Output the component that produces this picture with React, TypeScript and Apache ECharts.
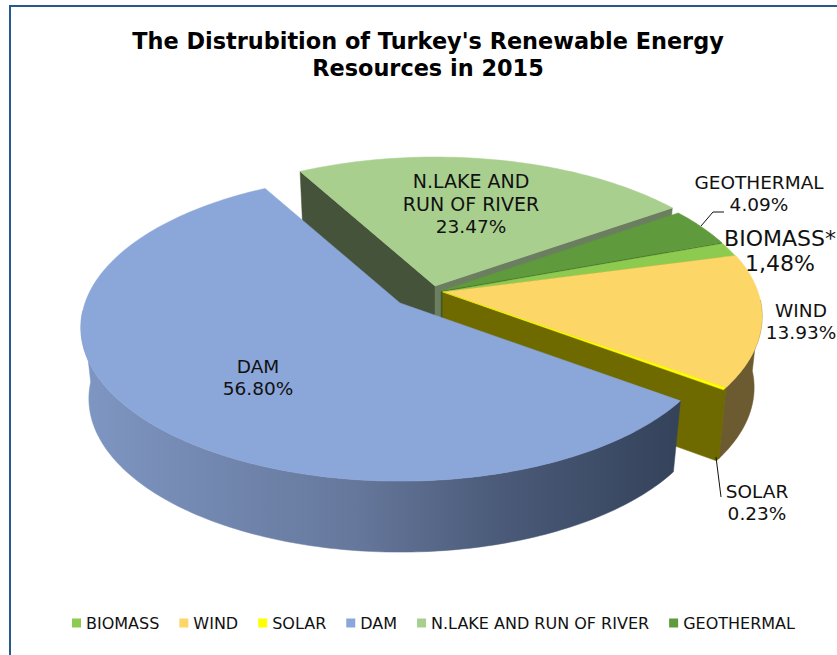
import React, { useEffect, useRef } from "react";
import * as echarts from "echarts";

// Renewable shares, in pie order (clockwise)
const categories = ["BIOMASS", "WIND", "SOLAR", "DAM", "N.LAKE AND RUN OF RIVER", "GEOTHERMAL"];
const shares = [1.48, 13.93, 0.23, 56.8, 23.47, 4.09];
const topColors = ["#8ccb4f", "#fcd666", "#ffff00", "#8ba6d9", "#a9cf8e", "#5f9a3d"];
const rimColors = ["#4d6f2a", "#6c5b30", "#6f6a00", "#5a6a8a", "#55684a", "#3f5f2a"];
const startWallColors = ["#4d6f2a", "#7a6a20", "#6f6a00", "#3a4860", "#44533a", "#3f5f2a"];
const endWallColors = ["#4f5a10", "#6f6a00", "#6f6a00", "#3a4860", "#6b7f60", "#3f5f2a"];

// Each slice's displacement from the common pie centre, in px
const sliceShift = [[1, 1], [2, 1], [2, 1], [-41, 12], [-6, -5], [0, 0]];
// Paint rank of each slice: far slices first, the pulled-out DAM last
const paintRank = [2, 3, 4, 5, 0, 1];

// Projection of the tilted pie
const CX = 441;
const CY = 291;
const RADIUS = 315;
const TILT = 0.475;
const PERSPECTIVE = 0.16;
const DEPTH = 71;
const BOTTOM_SHRINK = 0.975;
const FIRST_ANGLE = 70; // degrees clockwise from north, where the first slice starts

const title = ["The Distrubition of Turkey's Renewable Energy", "Resources in 2015"];

const labelNames = [["BIOMASS*"], ["WIND"], ["SOLAR"], ["DAM"], ["N.LAKE AND", "RUN OF RIVER"], ["GEOTHERMAL"]];
const labelValues = ["1,48%", "13.93%", "0.23%", "56.80%", "23.47%", "4.09%"];
const labelAnchors = [[780, 238], [801, 310], [757, 491], [258, 366], [471, 181], [759, 182]];
const labelSizes = [22, 18.5, 18.5, 18.5, 19, 18.5];

type Pt = [number, number];

function rimPoint(i: number, deg: number): Pt {
  const a = (deg * Math.PI) / 180;
  const x = Math.sin(a);
  const y = -Math.cos(a);
  const w = 1 - PERSPECTIVE * y;
  return [CX + sliceShift[i][0] + (RADIUS * x) / w, CY + sliceShift[i][1] + (TILT * RADIUS * y) / w];
}

function apex(i: number): Pt {
  return [CX + sliceShift[i][0], CY + sliceShift[i][1]];
}

function lower(i: number, p: Pt): Pt {
  const ax = apex(i)[0];
  return [ax + (p[0] - ax) * BOTTOM_SHRINK, p[1] + DEPTH];
}

function sliceAngles(i: number): [number, number] {
  const before = shares.slice(0, i).reduce((s, v) => s + v, 0);
  const total = shares.reduce((s, v) => s + v, 0);
  const a0 = FIRST_ANGLE + (before / total) * 360;
  return [a0, a0 + (shares[i] / total) * 360];
}

function rimFill(i: number) {
  if (categories[i] !== "DAM") return rimColors[i];
  return new echarts.graphic.LinearGradient(
    85, 0, 680, 0,
    [
      { offset: 0, color: "#7e96c2" },
      { offset: 0.45, color: "#66789c" },
      { offset: 0.7, color: "#4a5a78" },
      { offset: 1, color: "#34425a" },
    ],
    true
  );
}

function polygon(points: Pt[], fill: any) {
  return {
    type: "polygon",
    shape: { points },
    style: { fill, stroke: fill, lineWidth: 0.5 },
  };
}

function renderSlice(i: number) {
  const [a0, a1] = sliceAngles(i);
  const steps = Math.max(4, Math.ceil(a1 - a0));
  const rim: Pt[] = [];
  const frontRim: Pt[] = [];
  for (let s = 0; s <= steps; s++) {
    const deg = a0 + ((a1 - a0) * s) / steps;
    const p = rimPoint(i, deg);
    rim.push(p);
    // The outer wall only shows along the part of the rim that faces the viewer
    if (-Math.cos((deg * Math.PI) / 180) > 0.05) frontRim.push(p);
  }
  const c = apex(i);
  const cLow = lower(i, c);
  const first = rim[0];
  const last = rim[rim.length - 1];
  const children: any[] = [];
  // A radial wall is drawn only when its outward side turns towards the viewer
  if (-Math.sin((a0 * Math.PI) / 180) > 0) {
    children.push(polygon([c, first, lower(i, first), cLow], startWallColors[i]));
  }
  if (Math.sin((a1 * Math.PI) / 180) > 0) {
    children.push(polygon([c, last, lower(i, last), cLow], endWallColors[i]));
  }
  if (frontRim.length > 1) {
    children.push(polygon([...frontRim, ...frontRim.map((p) => lower(i, p)).reverse()], rimFill(i)));
  }
  children.push(polygon([c, ...rim], topColors[i]));
  return { type: "group", children };
}

function buildOption() {
  const labels: any[] = [];
  categories.forEach((_, i) => {
    const lines = [...labelNames[i], labelValues[i]];
    lines.forEach((text, n) => {
      // The biomass label is set larger than the rest
      const size = n === lines.length - 1 && i !== 0 ? 18.5 : labelSizes[i];
      labels.push({
        type: "text",
        x: labelAnchors[i][0],
        y: labelAnchors[i][1] + n * (i === 0 ? 25 : 22.5),
        z: 100,
        style: {
          text,
          fill: "#111111",
          font: `${size}px "DejaVu Sans"`,
          align: "center",
          verticalAlign: "middle",
        },
      });
    });
  });

  return {
    animation: false,
    backgroundColor: "#ffffff",
    legend: {
      data: categories.map((name, i) => ({ name, icon: "rect", itemStyle: { color: topColors[i] } })),
      left: 72,
      top: 615,
      padding: 0,
      itemWidth: 9,
      itemHeight: 9,
      itemGap: 20,
      selectedMode: false,
      textStyle: { fontFamily: "DejaVu Sans", fontSize: 16, color: "#111111" },
    },
    graphic: [
      {
        type: "rect",
        z: 0,
        shape: { x: 10, y: 6, width: 900, height: 800 },
        style: { fill: "#ffffff", stroke: "#255a8c", lineWidth: 2 },
      },
      ...title.map((text, n) => ({
        type: "text",
        x: 428,
        y: 41 + n * 27,
        z: 100,
        style: {
          text,
          fill: "#000000",
          font: 'bold 22.4px "DejaVu Sans"',
          align: "center",
          verticalAlign: "middle",
        },
      })),
      ...labels,
      {
        type: "polyline",
        z: 100,
        shape: { points: [[701, 226], [713, 212], [724, 212]] },
        style: { stroke: "#111111", lineWidth: 1, fill: "none" },
      },
      {
        type: "line",
        z: 100,
        shape: { x1: 716, y1: 457, x2: 721, y2: 497 },
        style: { stroke: "#111111", lineWidth: 1 },
      },
    ],
    series: categories.map((name, i) => ({
      type: "custom",
      name,
      coordinateSystem: "none",
      z: 10 + paintRank[i],
      silent: true,
      itemStyle: { color: topColors[i] },
      data: [shares[i]],
      renderItem: () => renderSlice(i),
    })),
  };
}

export default function App() {
  const ref = useRef<HTMLDivElement>(null);
  useEffect(() => {
    const chart = echarts.init(ref.current!, undefined, { renderer: "svg" });
    chart.setOption(buildOption() as any);
    return () => chart.dispose();
  }, []);
  return <div ref={ref} style={{ position: "fixed", left: 0, top: 0, width: 837, height: 655 }} />;
}
